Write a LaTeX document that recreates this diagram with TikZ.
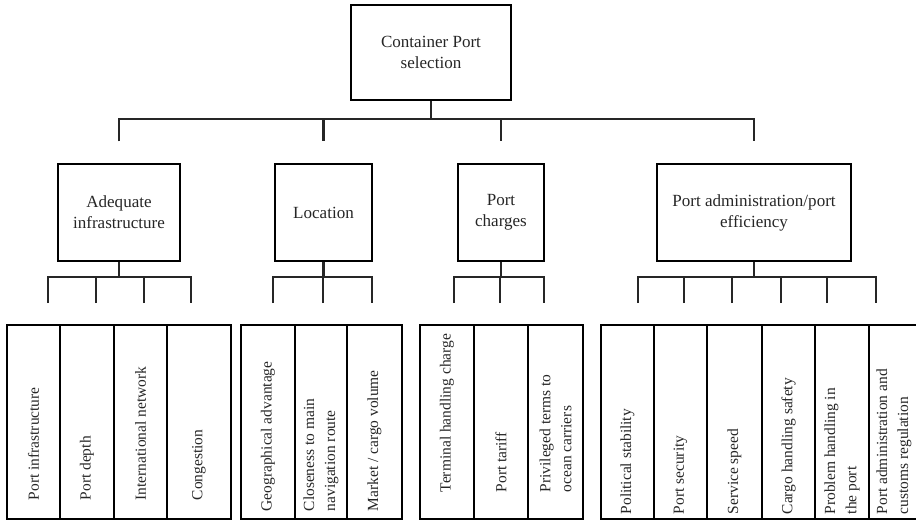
\documentclass[tikz,border=0pt]{standalone}
\usepackage{fontspec}
\setmainfont{Liberation Serif}
\usepackage{tikz}
\tikzset{
  box/.style={draw, line width=0.7, align=center, inner sep=0pt, font=\fontsize{9.7}{12}\selectfont, text=black!85},
  link/.style={line width=1.3, color=black!85},
  col/.style={draw, line width=0.7, minimum height=3.88cm, inner sep=0pt},
  leaf/.style={rotate=90, anchor=west, align=left, inner sep=0pt, font=\fontsize{8.8}{12}\selectfont, text=black!85}
}

\begin{document}
\begin{tikzpicture}[x=0.02cm, y=-0.02cm]
\useasboundingbox (0,0) rectangle (916,521);

% Goal
\node[box, minimum width=3.2cm, minimum height=1.9cm] (top) at (431,52.5) {Container Port\\selection};

% Criteria
\node[box, minimum width=2.44cm, minimum height=1.94cm] (ad) at (119,212.5) {Adequate\\infrastructure};
\node[box, minimum width=1.94cm, minimum height=1.94cm] (lo) at (323.5,212.5) {Location};
\node[box, minimum width=1.72cm, minimum height=1.94cm] (pc) at (501,212.5) {Port\\charges};
\node[box, minimum width=3.88cm, minimum height=1.94cm] (ef) at (754,212.5) {Port administration/port\\efficiency};

% Goal to criteria
\coordinate (bar0) at (0,119);
\draw[link] (top.south) -- (top.south |- bar0);
\draw[link] ([yshift=0.44cm]ad.north) -- (ad.north |- bar0) -- (ef.north |- bar0) -- ([yshift=0.44cm]ef.north);
\draw[link] (lo.north |- bar0) -- ([yshift=0.44cm]lo.north);
\draw[link] (pc.north |- bar0) -- ([yshift=0.44cm]pc.north);

% Criteria to sub-criteria
\coordinate (bar1) at (0,277);
\coordinate (a1) at (48,303);
\coordinate (a2) at (96,303);
\coordinate (a3) at (144,303);
\coordinate (a4) at (191,303);
\coordinate (l1) at (273,303);
\coordinate (l2) at (323,303);
\coordinate (l3) at (372,303);
\coordinate (p1) at (454,303);
\coordinate (p2) at (500,303);
\coordinate (p3) at (544,303);
\coordinate (e1) at (638,303);
\coordinate (e2) at (684,303);
\coordinate (e3) at (732,303);
\coordinate (e4) at (781,303);
\coordinate (e5) at (827,303);
\coordinate (e6) at (876,303);

\draw[link] (ad.south) -- (ad.south |- bar1);
\draw[link] (a1) -- (a1 |- bar1) -- (a4 |- bar1) -- (a4);
\foreach \t in {a2,a3} \draw[link] (\t) -- (\t |- bar1);

\draw[link] (lo.south) -- (lo.south |- bar1);
\draw[link] (l1) -- (l1 |- bar1) -- (l3 |- bar1) -- (l3);
\draw[link] (l2) -- (l2 |- bar1);

\draw[link] (pc.south) -- (pc.south |- bar1);
\draw[link] (p1) -- (p1 |- bar1) -- (p3 |- bar1) -- (p3);
\draw[link] (p2) -- (p2 |- bar1);

\draw[link] (ef.south) -- (ef.south |- bar1);
\draw[link] (e1) -- (e1 |- bar1) -- (e6 |- bar1) -- (e6);
\foreach \t in {e2,e3,e4,e5} \draw[link] (\t) -- (\t |- bar1);

% Sub-criteria: adequate infrastructure
\node[col, minimum width=1.06cm] (ad1) at (33.5,422) {};
\node[col, minimum width=1.08cm] (ad2) at (87,422) {};
\node[col, minimum width=1.06cm] (ad3) at (140.5,422) {};
\node[col, minimum width=1.28cm] (ad4) at (199,422) {};
\node[leaf] (ad1t) at ([yshift=0.38cm]ad1.south) {Port infrastructure};
\node[leaf] (ad2t) at ([yshift=0.38cm]ad2.south) {Port depth};
\node[leaf] (ad3t) at ([yshift=0.38cm]ad3.south) {International network};
\node[leaf] (ad4t) at ([yshift=0.38cm]ad4.south) {Congestion};

% Sub-criteria: location
\node[col, minimum width=1.08cm] (lo1) at (268,422) {};
\node[col, minimum width=1.04cm] (lo2) at (321,422) {};
\node[col, minimum width=1.10cm] (lo3) at (374.5,422) {};
\node[leaf] (lo1t) at ([yshift=0.16cm]lo1.south) {Geographical advantage};
\node[leaf] (lo2t) at ([yshift=0.16cm]lo2.south) {Closeness to main\\navigation route};
\node[leaf] (lo3t) at ([yshift=0.16cm]lo3.south) {Market / cargo volume};

% Sub-criteria: port charges
\node[col, minimum width=1.08cm] (pc1) at (447,422) {};
\node[col, minimum width=1.08cm] (pc2) at (501,422) {};
\node[col, minimum width=1.10cm] (pc3) at (555.5,422) {};
\node[leaf] (pc1t) at ([yshift=0.54cm]pc1.south) {Terminal handling charge};
\node[leaf] (pc2t) at ([yshift=0.54cm]pc2.south) {Port tariff};
\node[leaf] (pc3t) at ([yshift=0.54cm]pc3.south) {Privileged terms to\\ocean carriers};

% Sub-criteria: port efficiency
\node[col, minimum width=1.06cm] (ef1) at (627.5,422) {};
\node[col, minimum width=1.06cm] (ef2) at (680.5,422) {};
\node[col, minimum width=1.10cm] (ef3) at (734.5,422) {};
\node[col, minimum width=1.06cm] (ef4) at (788.5,422) {};
\node[col, minimum width=1.08cm] (ef5) at (842,422) {};
\node[col, minimum width=1.00cm] (ef6) at (894,422) {};
\node[leaf] (ef1t) at ([yshift=0.10cm]ef1.south) {Political stability};
\node[leaf] (ef2t) at ([yshift=0.10cm]ef2.south) {Port security};
\node[leaf] (ef3t) at ([yshift=0.10cm]ef3.south) {Service speed};
\node[leaf] (ef4t) at ([yshift=0.10cm]ef4.south) {Cargo handling safety};
\node[leaf] (ef5t) at ([yshift=0.10cm]ef5.south) {Problem handling in\\the port};
\node[leaf] (ef6t) at ([yshift=0.10cm]ef6.south) {Port administration and\\customs regulation};

\end{tikzpicture}
\end{document}
